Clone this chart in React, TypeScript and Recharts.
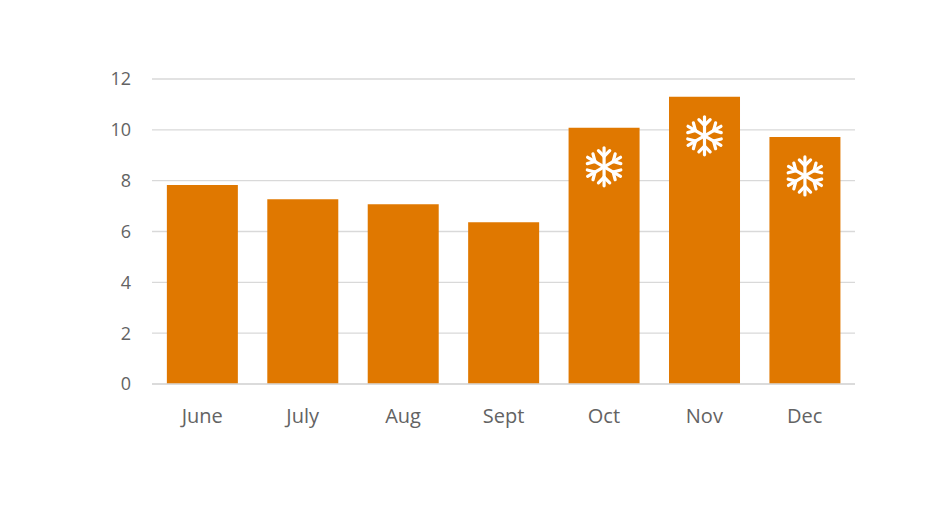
import { BarChart, Bar, XAxis, YAxis, CartesianGrid, LabelList } from "recharts"

const MONTHS = ["June", "July", "Aug", "Sept", "Oct", "Nov", "Dec"]
const VALUES = [7.83, 7.27, 7.07, 6.36, 10.08, 11.3, 9.72]
const SNOW = [false, false, false, false, true, true, true]
const Y_TICKS = [0, 2, 4, 6, 8, 10, 12]

const data = MONTHS.map((month, i) => ({ month, value: VALUES[i], snow: SNOW[i] ? 1 : 0 }))

const ORANGE = "#e07800"
const GRID = "#d9d9d9"
const TEXT = "#636363"
const FONT = "'Open Sans', sans-serif"

// white snowflake drawn inside a bar, a fixed distance under its top
function Snowflake(props: any) {
  const { x, y, width, value } = props
  if (!value) return null
  const cx = Number(x) + Number(width) / 2
  const cy = Number(y) + 39
  const R = 19
  const lines: JSX.Element[] = []
  ;[90, 30, -30, -90, -150, 150].forEach((deg, i) => {
    const a = (deg * Math.PI) / 180
    const ux = Math.cos(a)
    const uy = -Math.sin(a)
    lines.push(
      <line key={`a${i}`} x1={cx} y1={cy} x2={cx + ux * R} y2={cy + uy * R} />
    )
    const d = R * 0.55
    const bx = cx + ux * d
    const by = cy + uy * d
    const bl = R * 0.42
    for (const s of [1, -1]) {
      const b = a + (s * 45 * Math.PI) / 180
      lines.push(
        <line
          key={`b${i}${s}`}
          x1={bx}
          y1={by}
          x2={bx + Math.cos(b) * bl}
          y2={by - Math.sin(b) * bl}
        />
      )
    }
  })
  return (
    <g stroke="#ffffff" strokeWidth={3.2} strokeLinecap="round" fill="none">
      {lines}
    </g>
  )
}

export default function App() {
  return (
    <div style={{ position: "absolute", left: 0, top: 0, background: "#fff" }}>
      <BarChart
        width={944}
        height={531}
        data={data}
        margin={{ top: 79, right: 89, bottom: 0, left: 0 }}
        barCategoryGap="14.8%"
      >
        <CartesianGrid vertical={false} stroke={GRID} strokeWidth={1.3} />
        <XAxis
          dataKey="month"
          axisLine={{ stroke: GRID, strokeWidth: 1.3 }}
          tickLine={false}
          tickMargin={19}
          tick={{ fontSize: 20, fill: TEXT, fontFamily: FONT }}
          height={147}
        />
        <YAxis
          width={152}
          domain={[0, 12]}
          ticks={Y_TICKS}
          axisLine={false}
          tickLine={false}
          tickMargin={15}
          tick={{ fontSize: 18, fill: TEXT, fontFamily: FONT }}
        />
        <Bar dataKey="value" fill={ORANGE} isAnimationActive={false}>
          <LabelList dataKey="snow" content={<Snowflake />} />
        </Bar>
      </BarChart>
    </div>
  )
}
